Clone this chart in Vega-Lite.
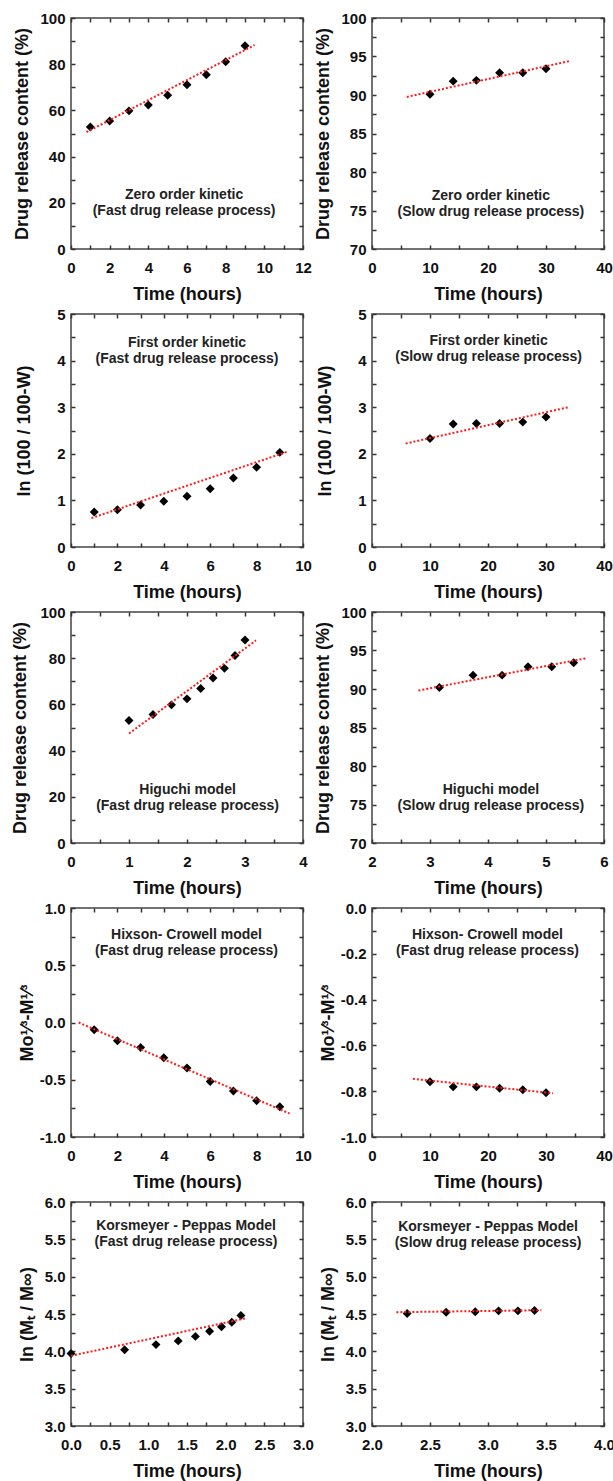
{
  "$schema": "https://vega.github.io/schema/vega-lite/v6.json",
  "padding": {"left": 11, "top": 10, "right": 0, "bottom": 0},
  "config": {
    "font": "Liberation Sans",
    "view": {"stroke": "#444", "strokeWidth": 1.5},
    "axis": {
      "domain": false, "grid": false,
      "labelFont": "Liberation Sans", "labelFontSize": 15, "labelFontWeight": "bold", "labelColor": "#111",
      "titleFont": "Liberation Sans", "titleFontSize": 18, "titleFontWeight": "bold", "titleColor": "#111",
      "tickSize": -4, "tickColor": "#333", "tickWidth": 1.5,
      "labelOverlap": false, "labelFlush": false, "labelBound": false
    },
    "axisX": {"labelPadding": 15, "titlePadding": 10},
    "axisY": {"labelPadding": 10}
  },
  "datasets": {
    "pts": [
      {"p": 1, "x": 1, "y": 52.8}, {"p": 1, "x": 2, "y": 55.4}, {"p": 1, "x": 3, "y": 59.8}, {"p": 1, "x": 4, "y": 62.3}, {"p": 1, "x": 5, "y": 66.6}, {"p": 1, "x": 6, "y": 71.1}, {"p": 1, "x": 7, "y": 75.4}, {"p": 1, "x": 8, "y": 81.1}, {"p": 1, "x": 9, "y": 88.0},
      {"p": 2, "x": 10, "y": 90.1}, {"p": 2, "x": 14, "y": 91.8}, {"p": 2, "x": 18, "y": 91.9}, {"p": 2, "x": 22, "y": 92.9}, {"p": 2, "x": 26, "y": 92.9}, {"p": 2, "x": 30, "y": 93.4},
      {"p": 3, "x": 1, "y": 0.75}, {"p": 3, "x": 2, "y": 0.80}, {"p": 3, "x": 3, "y": 0.90}, {"p": 3, "x": 4, "y": 0.98}, {"p": 3, "x": 5, "y": 1.09}, {"p": 3, "x": 6, "y": 1.25}, {"p": 3, "x": 7, "y": 1.48}, {"p": 3, "x": 8, "y": 1.71}, {"p": 3, "x": 9, "y": 2.03},
      {"p": 4, "x": 10, "y": 2.33}, {"p": 4, "x": 14, "y": 2.64}, {"p": 4, "x": 18, "y": 2.65}, {"p": 4, "x": 22, "y": 2.65}, {"p": 4, "x": 26, "y": 2.68}, {"p": 4, "x": 30, "y": 2.79},
      {"p": 5, "x": 1.0, "y": 53.0}, {"p": 5, "x": 1.414, "y": 55.6}, {"p": 5, "x": 1.732, "y": 59.8}, {"p": 5, "x": 2.0, "y": 62.4}, {"p": 5, "x": 2.236, "y": 66.9}, {"p": 5, "x": 2.449, "y": 71.4}, {"p": 5, "x": 2.646, "y": 75.6}, {"p": 5, "x": 2.828, "y": 81.2}, {"p": 5, "x": 3.0, "y": 87.9},
      {"p": 6, "x": 3.162, "y": 90.2}, {"p": 6, "x": 3.742, "y": 91.8}, {"p": 6, "x": 4.243, "y": 91.8}, {"p": 6, "x": 4.690, "y": 92.9}, {"p": 6, "x": 5.099, "y": 92.9}, {"p": 6, "x": 5.477, "y": 93.4},
      {"p": 7, "x": 1, "y": -0.064}, {"p": 7, "x": 2, "y": -0.16}, {"p": 7, "x": 3, "y": -0.218}, {"p": 7, "x": 4, "y": -0.308}, {"p": 7, "x": 5, "y": -0.398}, {"p": 7, "x": 6, "y": -0.515}, {"p": 7, "x": 7, "y": -0.599}, {"p": 7, "x": 8, "y": -0.683}, {"p": 7, "x": 9, "y": -0.735},
      {"p": 8, "x": 10, "y": -0.759}, {"p": 8, "x": 14, "y": -0.781}, {"p": 8, "x": 18, "y": -0.781}, {"p": 8, "x": 22, "y": -0.787}, {"p": 8, "x": 26, "y": -0.794}, {"p": 8, "x": 30, "y": -0.807},
      {"p": 9, "x": 0, "y": 3.97}, {"p": 9, "x": 0.693, "y": 4.02}, {"p": 9, "x": 1.099, "y": 4.09}, {"p": 9, "x": 1.386, "y": 4.14}, {"p": 9, "x": 1.609, "y": 4.20}, {"p": 9, "x": 1.792, "y": 4.27}, {"p": 9, "x": 1.946, "y": 4.33}, {"p": 9, "x": 2.079, "y": 4.39}, {"p": 9, "x": 2.197, "y": 4.48},
      {"p": 10, "x": 2.303, "y": 4.506}, {"p": 10, "x": 2.639, "y": 4.524}, {"p": 10, "x": 2.890, "y": 4.529}, {"p": 10, "x": 3.091, "y": 4.542}, {"p": 10, "x": 3.258, "y": 4.542}, {"p": 10, "x": 3.401, "y": 4.547}
    ],
    "fit": [
      {"p": 1, "x": 0.8, "y": 50.6}, {"p": 1, "x": 9.5, "y": 88.3},
      {"p": 2, "x": 6, "y": 89.75}, {"p": 2, "x": 34.3, "y": 94.45},
      {"p": 3, "x": 0.88, "y": 0.62}, {"p": 3, "x": 9.3, "y": 2.04},
      {"p": 4, "x": 5.8, "y": 2.22}, {"p": 4, "x": 33.9, "y": 3.0},
      {"p": 5, "x": 1.0, "y": 47.4}, {"p": 5, "x": 3.19, "y": 87.7},
      {"p": 6, "x": 2.8, "y": 89.8}, {"p": 6, "x": 5.7, "y": 94.0},
      {"p": 7, "x": 0.33, "y": 0.0}, {"p": 7, "x": 9.42, "y": -0.795},
      {"p": 8, "x": 7.05, "y": -0.746}, {"p": 8, "x": 31.2, "y": -0.809},
      {"p": 9, "x": 0, "y": 3.94}, {"p": 9, "x": 2.25, "y": 4.44},
      {"p": 10, "x": 2.21, "y": 4.524}, {"p": 10, "x": 3.46, "y": 4.551}
    ],
    "notes": [
      {"p": 1, "x": 5.85, "y": 23.2, "t": "Zero order kinetic\n(Fast drug release process)"},
      {"p": 2, "x": 20.5, "y": 76.85, "t": "Zero order kinetic\n(Slow drug release process)"},
      {"p": 3, "x": 5.0, "y": 4.38, "t": "First order kinetic\n(Fast drug release process)"},
      {"p": 4, "x": 20.1, "y": 4.42, "t": "First order kinetic\n(Slow drug release process)"},
      {"p": 5, "x": 2.01, "y": 23.1, "t": "Higuchi model\n(Fast drug release process)"},
      {"p": 6, "x": 4.05, "y": 76.9, "t": "Higuchi model\n(Slow drug release process)"},
      {"p": 7, "x": 4.98, "y": 0.762, "t": "Hixson- Crowell model\n(Fast drug release process)"},
      {"p": 8, "x": 19.9, "y": -0.119, "t": "Hixson- Crowell model\n(Fast drug release process)"},
      {"p": 9, "x": 1.487, "y": 5.675, "t": "Korsmeyer - Peppas Model\n(Fast drug release process)"},
      {"p": 10, "x": 3.0, "y": 5.66, "t": "Korsmeyer - Peppas Model\n(Slow drug release process)"}
    ]
  },
  "columns": 2,
  "bounds": "flush",
  "spacing": {"row": 65, "column": 69},
  "concat": [
    {
      "width": 232, "height": 231,
      "resolve": {"axis": {"x": "independent", "y": "independent"}},
      "layer": [
        {"data": {"name": "pts"}, "transform": [{"filter": "datum.p === 1"}],
         "mark": {"type": "point", "shape": "diamond", "filled": true, "color": "#000", "size": 80, "opacity": 1},
         "encoding": {
           "x": {"field": "x", "type": "quantitative", "scale": {"domain": [0, 12], "nice": false, "zero": false}, "axis": {"title": "Time (hours)", "values": [0,1,2,3,4,5,6,7,8,9,10,11,12], "labelExpr": "datum.value % 2 === 0 ? format(datum.value, 'd') : ''"}},
           "y": {"field": "y", "type": "quantitative", "scale": {"domain": [0, 100], "nice": false, "zero": false}, "axis": {"title": "Drug release content (%)", "titlePadding": 8, "values": [0,10,20,30,40,50,60,70,80,90,100], "labelExpr": "datum.value % 20 === 0 ? format(datum.value, 'd') : ''"}}
         }},
        {"data": {"name": "fit"}, "transform": [{"filter": "datum.p === 1"}],
         "mark": {"type": "line", "color": "#ff1a1a", "strokeWidth": 2, "strokeDash": [2, 2]},
         "encoding": {
           "x": {"field": "x", "type": "quantitative", "scale": {"domain": [0, 12], "nice": false, "zero": false}, "axis": {"orient": "top", "labels": false, "title": null, "values": [0,1,2,3,4,5,6,7,8,9,10,11,12]}},
           "y": {"field": "y", "type": "quantitative", "scale": {"domain": [0, 100], "nice": false, "zero": false}, "axis": {"orient": "right", "labels": false, "title": null, "values": [0,10,20,30,40,50,60,70,80,90,100]}}
         }},
        {"data": {"name": "notes"}, "transform": [{"filter": "datum.p === 1"}],
         "mark": {"type": "text", "lineBreak": "\n", "fontSize": 14, "fontWeight": "bold", "color": "#222", "align": "center", "baseline": "middle", "lineHeight": 16},
         "encoding": {
           "x": {"field": "x", "type": "quantitative", "scale": {"domain": [0, 12], "nice": false, "zero": false}, "axis": null},
           "y": {"field": "y", "type": "quantitative", "scale": {"domain": [0, 100], "nice": false, "zero": false}, "axis": null},
           "text": {"field": "t", "type": "nominal"}
         }}
      ]
    },
    {
      "width": 232, "height": 231,
      "resolve": {"axis": {"x": "independent", "y": "independent"}},
      "layer": [
        {"data": {"name": "pts"}, "transform": [{"filter": "datum.p === 2"}],
         "mark": {"type": "point", "shape": "diamond", "filled": true, "color": "#000", "size": 80, "opacity": 1},
         "encoding": {
           "x": {"field": "x", "type": "quantitative", "scale": {"domain": [0, 40], "nice": false, "zero": false}, "axis": {"title": "Time (hours)", "values": [0,5,10,15,20,25,30,35,40], "labelExpr": "datum.value % 10 === 0 ? format(datum.value, 'd') : ''"}},
           "y": {"field": "y", "type": "quantitative", "scale": {"domain": [70, 100], "nice": false, "zero": false}, "axis": {"title": "Drug release content (%)", "titlePadding": 8, "values": [70,72.5,75,77.5,80,82.5,85,87.5,90,92.5,95,97.5,100], "labelExpr": "datum.value % 5 === 0 ? format(datum.value, 'd') : ''"}}
         }},
        {"data": {"name": "fit"}, "transform": [{"filter": "datum.p === 2"}],
         "mark": {"type": "line", "color": "#ff1a1a", "strokeWidth": 2, "strokeDash": [2, 2]},
         "encoding": {
           "x": {"field": "x", "type": "quantitative", "scale": {"domain": [0, 40], "nice": false, "zero": false}, "axis": {"orient": "top", "labels": false, "title": null, "values": [0,5,10,15,20,25,30,35,40]}},
           "y": {"field": "y", "type": "quantitative", "scale": {"domain": [70, 100], "nice": false, "zero": false}, "axis": {"orient": "right", "labels": false, "title": null, "values": [70,72.5,75,77.5,80,82.5,85,87.5,90,92.5,95,97.5,100]}}
         }},
        {"data": {"name": "notes"}, "transform": [{"filter": "datum.p === 2"}],
         "mark": {"type": "text", "lineBreak": "\n", "fontSize": 14, "fontWeight": "bold", "color": "#222", "align": "center", "baseline": "middle", "lineHeight": 16},
         "encoding": {
           "x": {"field": "x", "type": "quantitative", "scale": {"domain": [0, 40], "nice": false, "zero": false}, "axis": null},
           "y": {"field": "y", "type": "quantitative", "scale": {"domain": [70, 100], "nice": false, "zero": false}, "axis": null},
           "text": {"field": "t", "type": "nominal"}
         }}
      ]
    },
    {
      "width": 232, "height": 233,
      "resolve": {"axis": {"x": "independent", "y": "independent"}},
      "layer": [
        {"data": {"name": "pts"}, "transform": [{"filter": "datum.p === 3"}],
         "mark": {"type": "point", "shape": "diamond", "filled": true, "color": "#000", "size": 80, "opacity": 1},
         "encoding": {
           "x": {"field": "x", "type": "quantitative", "scale": {"domain": [0, 10], "nice": false, "zero": false}, "axis": {"title": "Time (hours)", "values": [0,1,2,3,4,5,6,7,8,9,10], "labelExpr": "datum.value % 2 === 0 ? format(datum.value, 'd') : ''"}},
           "y": {"field": "y", "type": "quantitative", "scale": {"domain": [0, 5], "nice": false, "zero": false}, "axis": {"title": "ln (100 / 100-W)", "titlePadding": 23, "values": [0,0.5,1,1.5,2,2.5,3,3.5,4,4.5,5], "labelExpr": "datum.value % 1 === 0 ? format(datum.value, 'd') : ''"}}
         }},
        {"data": {"name": "fit"}, "transform": [{"filter": "datum.p === 3"}],
         "mark": {"type": "line", "color": "#ff1a1a", "strokeWidth": 2, "strokeDash": [2, 2]},
         "encoding": {
           "x": {"field": "x", "type": "quantitative", "scale": {"domain": [0, 10], "nice": false, "zero": false}, "axis": {"orient": "top", "labels": false, "title": null, "values": [0,1,2,3,4,5,6,7,8,9,10]}},
           "y": {"field": "y", "type": "quantitative", "scale": {"domain": [0, 5], "nice": false, "zero": false}, "axis": {"orient": "right", "labels": false, "title": null, "values": [0,0.5,1,1.5,2,2.5,3,3.5,4,4.5,5]}}
         }},
        {"data": {"name": "notes"}, "transform": [{"filter": "datum.p === 3"}],
         "mark": {"type": "text", "lineBreak": "\n", "fontSize": 14, "fontWeight": "bold", "color": "#222", "align": "center", "baseline": "middle", "lineHeight": 16},
         "encoding": {
           "x": {"field": "x", "type": "quantitative", "scale": {"domain": [0, 10], "nice": false, "zero": false}, "axis": null},
           "y": {"field": "y", "type": "quantitative", "scale": {"domain": [0, 5], "nice": false, "zero": false}, "axis": null},
           "text": {"field": "t", "type": "nominal"}
         }}
      ]
    },
    {
      "width": 232, "height": 233,
      "resolve": {"axis": {"x": "independent", "y": "independent"}},
      "layer": [
        {"data": {"name": "pts"}, "transform": [{"filter": "datum.p === 4"}],
         "mark": {"type": "point", "shape": "diamond", "filled": true, "color": "#000", "size": 80, "opacity": 1},
         "encoding": {
           "x": {"field": "x", "type": "quantitative", "scale": {"domain": [0, 40], "nice": false, "zero": false}, "axis": {"title": "Time (hours)", "values": [0,5,10,15,20,25,30,35,40], "labelExpr": "datum.value % 10 === 0 ? format(datum.value, 'd') : ''"}},
           "y": {"field": "y", "type": "quantitative", "scale": {"domain": [0, 5], "nice": false, "zero": false}, "axis": {"title": "ln (100 / 100-W)", "titlePadding": 23, "values": [0,0.5,1,1.5,2,2.5,3,3.5,4,4.5,5], "labelExpr": "datum.value % 1 === 0 ? format(datum.value, 'd') : ''"}}
         }},
        {"data": {"name": "fit"}, "transform": [{"filter": "datum.p === 4"}],
         "mark": {"type": "line", "color": "#ff1a1a", "strokeWidth": 2, "strokeDash": [2, 2]},
         "encoding": {
           "x": {"field": "x", "type": "quantitative", "scale": {"domain": [0, 40], "nice": false, "zero": false}, "axis": {"orient": "top", "labels": false, "title": null, "values": [0,5,10,15,20,25,30,35,40]}},
           "y": {"field": "y", "type": "quantitative", "scale": {"domain": [0, 5], "nice": false, "zero": false}, "axis": {"orient": "right", "labels": false, "title": null, "values": [0,0.5,1,1.5,2,2.5,3,3.5,4,4.5,5]}}
         }},
        {"data": {"name": "notes"}, "transform": [{"filter": "datum.p === 4"}],
         "mark": {"type": "text", "lineBreak": "\n", "fontSize": 14, "fontWeight": "bold", "color": "#222", "align": "center", "baseline": "middle", "lineHeight": 16},
         "encoding": {
           "x": {"field": "x", "type": "quantitative", "scale": {"domain": [0, 40], "nice": false, "zero": false}, "axis": null},
           "y": {"field": "y", "type": "quantitative", "scale": {"domain": [0, 5], "nice": false, "zero": false}, "axis": null},
           "text": {"field": "t", "type": "nominal"}
         }}
      ]
    },
    {
      "width": 232, "height": 231,
      "resolve": {"axis": {"x": "independent", "y": "independent"}},
      "layer": [
        {"data": {"name": "pts"}, "transform": [{"filter": "datum.p === 5"}],
         "mark": {"type": "point", "shape": "diamond", "filled": true, "color": "#000", "size": 80, "opacity": 1},
         "encoding": {
           "x": {"field": "x", "type": "quantitative", "scale": {"domain": [0, 4], "nice": false, "zero": false}, "axis": {"title": "Time (hours)", "values": [0,0.5,1,1.5,2,2.5,3,3.5,4], "labelExpr": "datum.value % 1 === 0 ? format(datum.value, 'd') : ''"}},
           "y": {"field": "y", "type": "quantitative", "scale": {"domain": [0, 100], "nice": false, "zero": false}, "axis": {"title": "Drug release content (%)", "titlePadding": 10, "values": [0,10,20,30,40,50,60,70,80,90,100], "labelExpr": "datum.value % 20 === 0 ? format(datum.value, 'd') : ''"}}
         }},
        {"data": {"name": "fit"}, "transform": [{"filter": "datum.p === 5"}],
         "mark": {"type": "line", "color": "#ff1a1a", "strokeWidth": 2, "strokeDash": [2, 2]},
         "encoding": {
           "x": {"field": "x", "type": "quantitative", "scale": {"domain": [0, 4], "nice": false, "zero": false}, "axis": {"orient": "top", "labels": false, "title": null, "values": [0,0.5,1,1.5,2,2.5,3,3.5,4]}},
           "y": {"field": "y", "type": "quantitative", "scale": {"domain": [0, 100], "nice": false, "zero": false}, "axis": {"orient": "right", "labels": false, "title": null, "values": [0,10,20,30,40,50,60,70,80,90,100]}}
         }},
        {"data": {"name": "notes"}, "transform": [{"filter": "datum.p === 5"}],
         "mark": {"type": "text", "lineBreak": "\n", "fontSize": 14, "fontWeight": "bold", "color": "#222", "align": "center", "baseline": "middle", "lineHeight": 16},
         "encoding": {
           "x": {"field": "x", "type": "quantitative", "scale": {"domain": [0, 4], "nice": false, "zero": false}, "axis": null},
           "y": {"field": "y", "type": "quantitative", "scale": {"domain": [0, 100], "nice": false, "zero": false}, "axis": null},
           "text": {"field": "t", "type": "nominal"}
         }}
      ]
    },
    {
      "width": 232, "height": 231,
      "resolve": {"axis": {"x": "independent", "y": "independent"}},
      "layer": [
        {"data": {"name": "pts"}, "transform": [{"filter": "datum.p === 6"}],
         "mark": {"type": "point", "shape": "diamond", "filled": true, "color": "#000", "size": 80, "opacity": 1},
         "encoding": {
           "x": {"field": "x", "type": "quantitative", "scale": {"domain": [2, 6], "nice": false, "zero": false}, "axis": {"title": "Time (hours)", "values": [2,2.5,3,3.5,4,4.5,5,5.5,6], "labelExpr": "datum.value % 1 === 0 ? format(datum.value, 'd') : ''"}},
           "y": {"field": "y", "type": "quantitative", "scale": {"domain": [70, 100], "nice": false, "zero": false}, "axis": {"title": "Drug release content (%)", "titlePadding": 8, "values": [70,72.5,75,77.5,80,82.5,85,87.5,90,92.5,95,97.5,100], "labelExpr": "datum.value % 5 === 0 ? format(datum.value, 'd') : ''"}}
         }},
        {"data": {"name": "fit"}, "transform": [{"filter": "datum.p === 6"}],
         "mark": {"type": "line", "color": "#ff1a1a", "strokeWidth": 2, "strokeDash": [2, 2]},
         "encoding": {
           "x": {"field": "x", "type": "quantitative", "scale": {"domain": [2, 6], "nice": false, "zero": false}, "axis": {"orient": "top", "labels": false, "title": null, "values": [2,2.5,3,3.5,4,4.5,5,5.5,6]}},
           "y": {"field": "y", "type": "quantitative", "scale": {"domain": [70, 100], "nice": false, "zero": false}, "axis": {"orient": "right", "labels": false, "title": null, "values": [70,72.5,75,77.5,80,82.5,85,87.5,90,92.5,95,97.5,100]}}
         }},
        {"data": {"name": "notes"}, "transform": [{"filter": "datum.p === 6"}],
         "mark": {"type": "text", "lineBreak": "\n", "fontSize": 14, "fontWeight": "bold", "color": "#222", "align": "center", "baseline": "middle", "lineHeight": 16},
         "encoding": {
           "x": {"field": "x", "type": "quantitative", "scale": {"domain": [2, 6], "nice": false, "zero": false}, "axis": null},
           "y": {"field": "y", "type": "quantitative", "scale": {"domain": [70, 100], "nice": false, "zero": false}, "axis": null},
           "text": {"field": "t", "type": "nominal"}
         }}
      ]
    },
    {
      "width": 232, "height": 229,
      "resolve": {"axis": {"x": "independent", "y": "independent"}},
      "layer": [
        {"data": {"name": "pts"}, "transform": [{"filter": "datum.p === 7"}],
         "mark": {"type": "point", "shape": "diamond", "filled": true, "color": "#000", "size": 80, "opacity": 1},
         "encoding": {
           "x": {"field": "x", "type": "quantitative", "scale": {"domain": [0, 10], "nice": false, "zero": false}, "axis": {"title": "Time (hours)", "values": [0,1,2,3,4,5,6,7,8,9,10], "labelExpr": "datum.value % 2 === 0 ? format(datum.value, 'd') : ''"}},
           "y": {"field": "y", "type": "quantitative", "scale": {"domain": [-1, 1], "nice": false, "zero": false}, "axis": {"title": "Mo¹⁄³-M¹⁄³", "titlePadding": 3, "values": [-1,-0.75,-0.5,-0.25,0,0.25,0.5,0.75,1], "labelExpr": "abs(datum.value*2 - round(datum.value*2)) < 1e-6 ? (datum.value < -1e-9 ? '-' : '') + format(abs(datum.value), '.1f') : ''"}}
         }},
        {"data": {"name": "fit"}, "transform": [{"filter": "datum.p === 7"}],
         "mark": {"type": "line", "color": "#ff1a1a", "strokeWidth": 2, "strokeDash": [2, 2]},
         "encoding": {
           "x": {"field": "x", "type": "quantitative", "scale": {"domain": [0, 10], "nice": false, "zero": false}, "axis": {"orient": "top", "labels": false, "title": null, "values": [0,1,2,3,4,5,6,7,8,9,10]}},
           "y": {"field": "y", "type": "quantitative", "scale": {"domain": [-1, 1], "nice": false, "zero": false}, "axis": {"orient": "right", "labels": false, "title": null, "values": [-1,-0.75,-0.5,-0.25,0,0.25,0.5,0.75,1]}}
         }},
        {"data": {"name": "notes"}, "transform": [{"filter": "datum.p === 7"}],
         "mark": {"type": "text", "lineBreak": "\n", "fontSize": 14, "fontWeight": "bold", "color": "#222", "align": "center", "baseline": "middle", "lineHeight": 16},
         "encoding": {
           "x": {"field": "x", "type": "quantitative", "scale": {"domain": [0, 10], "nice": false, "zero": false}, "axis": null},
           "y": {"field": "y", "type": "quantitative", "scale": {"domain": [-1, 1], "nice": false, "zero": false}, "axis": null},
           "text": {"field": "t", "type": "nominal"}
         }}
      ]
    },
    {
      "width": 232, "height": 229,
      "resolve": {"axis": {"x": "independent", "y": "independent"}},
      "layer": [
        {"data": {"name": "pts"}, "transform": [{"filter": "datum.p === 8"}],
         "mark": {"type": "point", "shape": "diamond", "filled": true, "color": "#000", "size": 80, "opacity": 1},
         "encoding": {
           "x": {"field": "x", "type": "quantitative", "scale": {"domain": [0, 40], "nice": false, "zero": false}, "axis": {"title": "Time (hours)", "values": [0,5,10,15,20,25,30,35,40], "labelExpr": "datum.value % 10 === 0 ? format(datum.value, 'd') : ''"}},
           "y": {"field": "y", "type": "quantitative", "scale": {"domain": [-1, 0], "nice": false, "zero": false}, "axis": {"title": "Mo¹⁄³-M¹⁄³", "titlePadding": 3, "values": [-1,-0.9,-0.8,-0.7,-0.6,-0.5,-0.4,-0.3,-0.2,-0.1,0], "labelExpr": "abs(datum.value*5 - round(datum.value*5)) < 1e-6 ? (datum.value < -1e-9 ? '-' : '') + format(abs(datum.value), '.1f') : ''"}}
         }},
        {"data": {"name": "fit"}, "transform": [{"filter": "datum.p === 8"}],
         "mark": {"type": "line", "color": "#ff1a1a", "strokeWidth": 2, "strokeDash": [2, 2]},
         "encoding": {
           "x": {"field": "x", "type": "quantitative", "scale": {"domain": [0, 40], "nice": false, "zero": false}, "axis": {"orient": "top", "labels": false, "title": null, "values": [0,5,10,15,20,25,30,35,40]}},
           "y": {"field": "y", "type": "quantitative", "scale": {"domain": [-1, 0], "nice": false, "zero": false}, "axis": {"orient": "right", "labels": false, "title": null, "values": [-1,-0.9,-0.8,-0.7,-0.6,-0.5,-0.4,-0.3,-0.2,-0.1,0]}}
         }},
        {"data": {"name": "notes"}, "transform": [{"filter": "datum.p === 8"}],
         "mark": {"type": "text", "lineBreak": "\n", "fontSize": 14, "fontWeight": "bold", "color": "#222", "align": "center", "baseline": "middle", "lineHeight": 16},
         "encoding": {
           "x": {"field": "x", "type": "quantitative", "scale": {"domain": [0, 40], "nice": false, "zero": false}, "axis": null},
           "y": {"field": "y", "type": "quantitative", "scale": {"domain": [-1, 0], "nice": false, "zero": false}, "axis": null},
           "text": {"field": "t", "type": "nominal"}
         }}
      ]
    },
    {
      "width": 232, "height": 224,
      "resolve": {"axis": {"x": "independent", "y": "independent"}},
      "layer": [
        {"data": {"name": "pts"}, "transform": [{"filter": "datum.p === 9"}],
         "mark": {"type": "point", "shape": "diamond", "filled": true, "color": "#000", "size": 80, "opacity": 1},
         "encoding": {
           "x": {"field": "x", "type": "quantitative", "scale": {"domain": [0, 3], "nice": false, "zero": false}, "axis": {"title": "Time (hours)", "values": [0,0.25,0.5,0.75,1,1.25,1.5,1.75,2,2.25,2.5,2.75,3], "labelExpr": "abs(datum.value*2 - round(datum.value*2)) < 1e-6 ? format(datum.value, '.1f') : ''"}},
           "y": {"field": "y", "type": "quantitative", "scale": {"domain": [3, 6], "nice": false, "zero": false}, "axis": {"title": "ln (Mₜ / M∞)", "titlePadding": 8, "values": [3,3.25,3.5,3.75,4,4.25,4.5,4.75,5,5.25,5.5,5.75,6], "labelExpr": "abs(datum.value*2 - round(datum.value*2)) < 1e-6 ? format(datum.value, '.1f') : ''"}}
         }},
        {"data": {"name": "fit"}, "transform": [{"filter": "datum.p === 9"}],
         "mark": {"type": "line", "color": "#ff1a1a", "strokeWidth": 2, "strokeDash": [2, 2]},
         "encoding": {
           "x": {"field": "x", "type": "quantitative", "scale": {"domain": [0, 3], "nice": false, "zero": false}, "axis": {"orient": "top", "labels": false, "title": null, "values": [0,0.25,0.5,0.75,1,1.25,1.5,1.75,2,2.25,2.5,2.75,3]}},
           "y": {"field": "y", "type": "quantitative", "scale": {"domain": [3, 6], "nice": false, "zero": false}, "axis": {"orient": "right", "labels": false, "title": null, "values": [3,3.25,3.5,3.75,4,4.25,4.5,4.75,5,5.25,5.5,5.75,6]}}
         }},
        {"data": {"name": "notes"}, "transform": [{"filter": "datum.p === 9"}],
         "mark": {"type": "text", "lineBreak": "\n", "fontSize": 14, "fontWeight": "bold", "color": "#222", "align": "center", "baseline": "middle", "lineHeight": 16},
         "encoding": {
           "x": {"field": "x", "type": "quantitative", "scale": {"domain": [0, 3], "nice": false, "zero": false}, "axis": null},
           "y": {"field": "y", "type": "quantitative", "scale": {"domain": [3, 6], "nice": false, "zero": false}, "axis": null},
           "text": {"field": "t", "type": "nominal"}
         }}
      ]
    },
    {
      "width": 232, "height": 224,
      "resolve": {"axis": {"x": "independent", "y": "independent"}},
      "layer": [
        {"data": {"name": "pts"}, "transform": [{"filter": "datum.p === 10"}],
         "mark": {"type": "point", "shape": "diamond", "filled": true, "color": "#000", "size": 80, "opacity": 1},
         "encoding": {
           "x": {"field": "x", "type": "quantitative", "scale": {"domain": [2, 4], "nice": false, "zero": false}, "axis": {"title": "Time (hours)", "values": [2,2.25,2.5,2.75,3,3.25,3.5,3.75,4], "labelExpr": "abs(datum.value*2 - round(datum.value*2)) < 1e-6 ? format(datum.value, '.1f') : ''"}},
           "y": {"field": "y", "type": "quantitative", "scale": {"domain": [3, 6], "nice": false, "zero": false}, "axis": {"title": "ln (Mₜ / M∞)", "titlePadding": 8, "values": [3,3.25,3.5,3.75,4,4.25,4.5,4.75,5,5.25,5.5,5.75,6], "labelExpr": "abs(datum.value*2 - round(datum.value*2)) < 1e-6 ? format(datum.value, '.1f') : ''"}}
         }},
        {"data": {"name": "fit"}, "transform": [{"filter": "datum.p === 10"}],
         "mark": {"type": "line", "color": "#ff1a1a", "strokeWidth": 2, "strokeDash": [2, 2]},
         "encoding": {
           "x": {"field": "x", "type": "quantitative", "scale": {"domain": [2, 4], "nice": false, "zero": false}, "axis": {"orient": "top", "labels": false, "title": null, "values": [2,2.25,2.5,2.75,3,3.25,3.5,3.75,4]}},
           "y": {"field": "y", "type": "quantitative", "scale": {"domain": [3, 6], "nice": false, "zero": false}, "axis": {"orient": "right", "labels": false, "title": null, "values": [3,3.25,3.5,3.75,4,4.25,4.5,4.75,5,5.25,5.5,5.75,6]}}
         }},
        {"data": {"name": "notes"}, "transform": [{"filter": "datum.p === 10"}],
         "mark": {"type": "text", "lineBreak": "\n", "fontSize": 14, "fontWeight": "bold", "color": "#222", "align": "center", "baseline": "middle", "lineHeight": 16},
         "encoding": {
           "x": {"field": "x", "type": "quantitative", "scale": {"domain": [2, 4], "nice": false, "zero": false}, "axis": null},
           "y": {"field": "y", "type": "quantitative", "scale": {"domain": [3, 6], "nice": false, "zero": false}, "axis": null},
           "text": {"field": "t", "type": "nominal"}
         }}
      ]
    }
  ]
}
